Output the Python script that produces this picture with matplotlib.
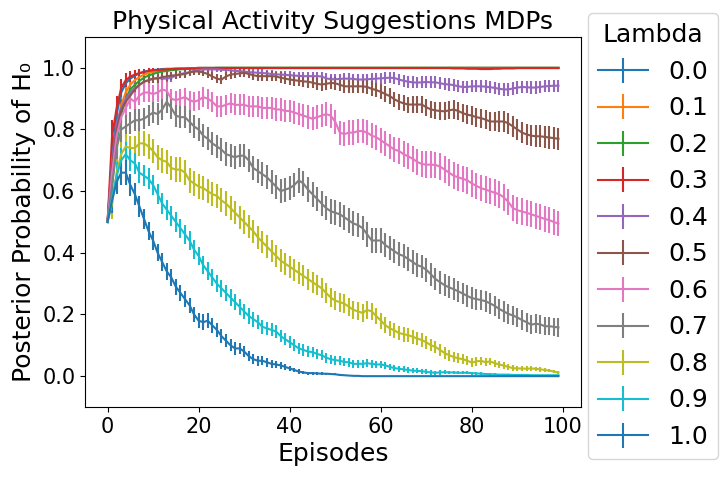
import matplotlib
matplotlib.use("Agg")
import matplotlib.pyplot as plt

episodes = list(range(100))
lambdas = ["0.0", "0.1", "0.2", "0.3", "0.4", "0.5", "0.6", "0.7", "0.8", "0.9", "1.0"]

# mean posterior probability per episode, one list per lambda
lam_00 = [
    0.50, 0.72, 0.85, 0.92, 0.95, 0.965, 0.975, 0.982, 0.988, 0.990,
    0.993, 0.994, 0.996, 0.997, 0.997, 0.998, 0.998, 0.998, 0.999, 0.999,
    1.0, 1.0, 1.0, 1.0, 1.0, 1.0, 1.0, 1.0, 1.0, 1.0,
    1.0, 1.0, 1.0, 1.0, 1.0, 1.0, 1.0, 1.0, 1.0, 1.0,
    1.0, 1.0, 1.0, 1.0, 1.0, 1.0, 1.0, 1.0, 1.0, 1.0,
    1.0, 1.0, 1.0, 1.0, 1.0, 1.0, 1.0, 1.0, 1.0, 1.0,
    1.0, 1.0, 1.0, 1.0, 1.0, 1.0, 1.0, 1.0, 1.0, 1.0,
    1.0, 1.0, 1.0, 1.0, 1.0, 1.0, 1.0, 1.0, 1.0, 1.0,
    1.0, 1.0, 1.0, 1.0, 1.0, 1.0, 1.0, 1.0, 1.0, 1.0,
    1.0, 1.0, 1.0, 1.0, 1.0, 1.0, 1.0, 1.0, 1.0, 1.0,
]
lam_01 = [
    0.50, 0.65, 0.80, 0.88, 0.92, 0.945, 0.960, 0.970, 0.978, 0.983,
    0.987, 0.990, 0.993, 0.995, 0.996, 0.997, 0.998, 0.998, 0.999, 0.999,
    1.0, 1.0, 1.0, 1.0, 1.0, 1.0, 1.0, 1.0, 1.0, 1.0,
    1.0, 1.0, 1.0, 1.0, 1.0, 1.0, 1.0, 1.0, 1.0, 1.0,
    1.0, 1.0, 1.0, 1.0, 1.0, 1.0, 1.0, 1.0, 1.0, 1.0,
    1.0, 1.0, 1.0, 1.0, 1.0, 1.0, 1.0, 1.0, 1.0, 1.0,
    1.0, 1.0, 1.0, 1.0, 1.0, 1.0, 1.0, 1.0, 1.0, 1.0,
    1.0, 1.0, 1.0, 1.0, 1.0, 1.0, 1.0, 1.0, 1.0, 1.0,
    1.0, 1.0, 1.0, 1.0, 1.0, 1.0, 1.0, 1.0, 1.0, 1.0,
    1.0, 1.0, 1.0, 1.0, 1.0, 1.0, 1.0, 1.0, 1.0, 1.0,
]
lam_02 = [
    0.50, 0.62, 0.76, 0.85, 0.90, 0.93, 0.945, 0.958, 0.968, 0.975,
    0.980, 0.985, 0.988, 0.990, 0.992, 0.994, 0.995, 0.996, 0.997, 0.998,
    0.998, 0.999, 0.999, 0.999, 1.0, 1.0, 1.0, 1.0, 1.0, 1.0,
    1.0, 1.0, 1.0, 1.0, 1.0, 1.0, 1.0, 1.0, 1.0, 1.0,
    1.0, 1.0, 1.0, 1.0, 1.0, 1.0, 1.0, 1.0, 1.0, 1.0,
    1.0, 1.0, 1.0, 1.0, 1.0, 1.0, 1.0, 1.0, 1.0, 1.0,
    1.0, 1.0, 1.0, 1.0, 1.0, 1.0, 1.0, 1.0, 1.0, 1.0,
    1.0, 1.0, 1.0, 1.0, 1.0, 1.0, 1.0, 1.0, 1.0, 1.0,
    1.0, 1.0, 1.0, 1.0, 1.0, 1.0, 1.0, 1.0, 1.0, 1.0,
    1.0, 1.0, 1.0, 1.0, 1.0, 1.0, 1.0, 1.0, 1.0, 1.0,
]
lam_03 = [
    0.50, 0.78, 0.87, 0.935, 0.96, 0.972, 0.978, 0.983, 0.986, 0.990,
    0.992, 0.993, 0.994, 0.995, 0.996, 0.996, 0.997, 0.997, 0.998, 0.998,
    0.998, 0.998, 0.998, 0.998, 0.999, 0.999, 0.999, 0.999, 0.999, 0.999,
    0.999, 0.999, 0.999, 0.999, 0.999, 0.999, 0.999, 0.999, 0.999, 0.999,
    0.999, 0.999, 0.999, 0.999, 0.999, 0.999, 0.999, 0.999, 0.999, 0.999,
    0.999, 0.999, 0.999, 0.999, 0.999, 0.999, 0.999, 0.999, 0.999, 0.999,
    0.999, 0.999, 0.999, 0.999, 0.999, 0.999, 0.999, 0.999, 0.999, 0.999,
    0.999, 0.999, 0.999, 0.999, 0.999, 0.999, 0.998, 0.998, 0.998, 0.997,
    0.997, 0.997, 0.996, 0.996, 0.996, 0.997, 0.997, 0.998, 0.998, 0.998,
    0.999, 0.999, 0.999, 0.999, 0.999, 0.999, 0.999, 0.999, 0.999, 0.999,
]
lam_04 = [
    0.50, 0.70, 0.82, 0.87, 0.90, 0.92, 0.935, 0.945, 0.955, 0.960,
    0.965, 0.968, 0.965, 0.965, 0.968, 0.975, 0.980, 0.983, 0.986, 0.990,
    0.993, 0.995, 0.995, 0.995, 0.995, 0.994, 0.993, 0.992, 0.990, 0.989,
    0.988, 0.986, 0.985, 0.984, 0.983, 0.982, 0.980, 0.979, 0.978, 0.977,
    0.976, 0.975, 0.974, 0.973, 0.973, 0.973, 0.973, 0.972, 0.966, 0.963,
    0.963, 0.964, 0.965, 0.965, 0.964, 0.962, 0.962, 0.963, 0.964, 0.965,
    0.966, 0.967, 0.968, 0.967, 0.962, 0.958, 0.955, 0.953, 0.952, 0.953,
    0.954, 0.953, 0.953, 0.950, 0.947, 0.946, 0.944, 0.940, 0.938, 0.938,
    0.940, 0.940, 0.940, 0.939, 0.937, 0.935, 0.932, 0.930, 0.930, 0.933,
    0.936, 0.938, 0.937, 0.936, 0.936, 0.938, 0.940, 0.941, 0.942, 0.942,
]
lam_05 = [
    0.50, 0.68, 0.80, 0.86, 0.89, 0.91, 0.93, 0.945, 0.955, 0.960,
    0.965, 0.965, 0.970, 0.972, 0.975, 0.976, 0.978, 0.980, 0.985, 0.988,
    0.988, 0.985, 0.980, 0.972, 0.965, 0.962, 0.972, 0.978, 0.980, 0.982,
    0.984, 0.980, 0.976, 0.973, 0.973, 0.973, 0.973, 0.972, 0.968, 0.965,
    0.962, 0.960, 0.958, 0.956, 0.955, 0.952, 0.948, 0.946, 0.948, 0.951,
    0.950, 0.945, 0.940, 0.940, 0.940, 0.940, 0.940, 0.938, 0.932, 0.928,
    0.922, 0.915, 0.908, 0.898, 0.890, 0.885, 0.881, 0.881, 0.881, 0.881,
    0.872, 0.865, 0.862, 0.860, 0.859, 0.862, 0.865, 0.860, 0.853, 0.848,
    0.845, 0.840, 0.837, 0.832, 0.826, 0.826, 0.826, 0.826, 0.820, 0.810,
    0.800, 0.790, 0.784, 0.780, 0.778, 0.778, 0.776, 0.774, 0.772, 0.770,
]
lam_06 = [
    0.50, 0.66, 0.78, 0.84, 0.87, 0.90, 0.89, 0.91, 0.92, 0.92,
    0.915, 0.92, 0.93, 0.925, 0.90, 0.895, 0.90, 0.905, 0.895, 0.89,
    0.895, 0.905, 0.90, 0.89, 0.875, 0.875, 0.88, 0.885, 0.88, 0.88,
    0.88, 0.875, 0.875, 0.875, 0.87, 0.87, 0.87, 0.865, 0.865, 0.86,
    0.86, 0.855, 0.85, 0.845, 0.84, 0.835, 0.84, 0.845, 0.85, 0.845,
    0.825, 0.79, 0.785, 0.79, 0.79, 0.795, 0.795, 0.79, 0.78, 0.775,
    0.765, 0.755, 0.745, 0.735, 0.73, 0.72, 0.713, 0.705, 0.695, 0.688,
    0.686, 0.686, 0.685, 0.68, 0.67, 0.66, 0.65, 0.645, 0.64, 0.635,
    0.625, 0.617, 0.61, 0.605, 0.60, 0.595, 0.59, 0.58, 0.565, 0.545,
    0.538, 0.534, 0.53, 0.525, 0.52, 0.515, 0.51, 0.506, 0.50, 0.495,
]
lam_07 = [
    0.50, 0.62, 0.74, 0.80, 0.81, 0.82, 0.83, 0.83, 0.835, 0.845,
    0.855, 0.85, 0.865, 0.89, 0.87, 0.845, 0.84, 0.84, 0.825, 0.81,
    0.80, 0.78, 0.77, 0.755, 0.745, 0.735, 0.72, 0.715, 0.71, 0.715,
    0.715, 0.70, 0.675, 0.665, 0.655, 0.645, 0.63, 0.615, 0.60, 0.605,
    0.61, 0.62, 0.635, 0.625, 0.605, 0.59, 0.575, 0.56, 0.545, 0.535,
    0.53, 0.525, 0.515, 0.505, 0.495, 0.49, 0.48, 0.46, 0.44, 0.44,
    0.44, 0.425, 0.415, 0.405, 0.395, 0.39, 0.38, 0.37, 0.36, 0.355,
    0.345, 0.33, 0.315, 0.305, 0.295, 0.288, 0.282, 0.275, 0.268, 0.26,
    0.253, 0.25, 0.247, 0.243, 0.236, 0.228, 0.218, 0.21, 0.202, 0.197,
    0.19, 0.182, 0.175, 0.167, 0.17, 0.168, 0.162, 0.162, 0.16, 0.158,
]
lam_08 = [
    0.50, 0.56, 0.66, 0.72, 0.745, 0.74, 0.74, 0.755, 0.755, 0.745,
    0.73, 0.71, 0.70, 0.695, 0.675, 0.67, 0.67, 0.66, 0.635, 0.625,
    0.615, 0.61, 0.60, 0.59, 0.585, 0.57, 0.56, 0.545, 0.53, 0.515,
    0.50, 0.485, 0.47, 0.45, 0.435, 0.42, 0.405, 0.39, 0.375, 0.365,
    0.355, 0.345, 0.335, 0.325, 0.315, 0.305, 0.295, 0.285, 0.27, 0.255,
    0.245, 0.24, 0.235, 0.225, 0.215, 0.21, 0.205, 0.215, 0.21, 0.195,
    0.18, 0.165, 0.155, 0.148, 0.14, 0.136, 0.133, 0.128, 0.122, 0.117,
    0.11, 0.10, 0.095, 0.085, 0.075, 0.068, 0.062, 0.058, 0.055, 0.05,
    0.044, 0.048, 0.05, 0.045, 0.048, 0.042, 0.038, 0.034, 0.03, 0.026,
    0.025, 0.025, 0.024, 0.025, 0.024, 0.022, 0.02, 0.018, 0.015, 0.012,
]
lam_09 = [
    0.50, 0.58, 0.65, 0.70, 0.72, 0.70, 0.69, 0.66, 0.65, 0.64,
    0.62, 0.59, 0.56, 0.54, 0.52, 0.50, 0.48, 0.46, 0.44, 0.41,
    0.39, 0.36, 0.34, 0.32, 0.30, 0.285, 0.27, 0.255, 0.24, 0.225,
    0.21, 0.195, 0.185, 0.175, 0.16, 0.155, 0.15, 0.145, 0.13, 0.12,
    0.11, 0.10, 0.09, 0.085, 0.08, 0.078, 0.072, 0.068, 0.06, 0.055,
    0.052, 0.05, 0.046, 0.045, 0.04, 0.04, 0.04, 0.042, 0.04, 0.038,
    0.038, 0.035, 0.03, 0.026, 0.024, 0.022, 0.02, 0.018, 0.017, 0.016,
    0.014, 0.012, 0.011, 0.012, 0.013, 0.012, 0.012, 0.011, 0.011, 0.011,
    0.010, 0.009, 0.008, 0.007, 0.006, 0.006, 0.005, 0.005, 0.005, 0.004,
    0.004, 0.004, 0.004, 0.003, 0.003, 0.003, 0.003, 0.003, 0.003, 0.003,
]
lam_10 = [
    0.50, 0.57, 0.63, 0.66, 0.66, 0.62, 0.59, 0.55, 0.51, 0.47,
    0.44, 0.40, 0.37, 0.34, 0.32, 0.29, 0.27, 0.25, 0.23, 0.20,
    0.18, 0.175, 0.18, 0.165, 0.15, 0.13, 0.115, 0.10, 0.09, 0.09,
    0.08, 0.065, 0.055, 0.05, 0.05, 0.045, 0.04, 0.038, 0.035, 0.03,
    0.025, 0.02, 0.015, 0.012, 0.01, 0.01, 0.009, 0.008, 0.008, 0.007,
    0.006, 0.004, 0.003, 0.002, 0.001, 0.001, 0.0, 0.0, 0.0, 0.0,
    0.0, 0.0, 0.0, 0.0, 0.0, 0.0, 0.0, 0.0, 0.0, 0.0,
    0.0, 0.0, 0.0, 0.0, 0.0, 0.0, 0.0, 0.0, 0.0, 0.0,
    0.0, 0.0, 0.0, 0.0, 0.0, 0.0, 0.0, 0.0, 0.0, 0.0,
    0.0, 0.0, 0.0, 0.0, 0.0, 0.0, 0.0, 0.0, 0.0, 0.0,
]

# error bar half-lengths, same layout
err_00 = [
    0.0, 0.04, 0.03, 0.02, 0.015, 0.012, 0.010, 0.008, 0.006, 0.005,
    0.004, 0.003, 0.003, 0.002, 0.002, 0.002, 0.001, 0.001, 0.001, 0.001,
] + [0.0] * 80
err_01 = [
    0.0, 0.045, 0.035, 0.03, 0.02, 0.015, 0.012, 0.010, 0.008, 0.006,
    0.005, 0.004, 0.003, 0.003, 0.002, 0.002, 0.002, 0.001, 0.001, 0.001,
] + [0.0] * 80
err_02 = [
    0.0, 0.045, 0.035, 0.03, 0.02, 0.015, 0.012, 0.010, 0.008, 0.007,
    0.006, 0.005, 0.004, 0.004, 0.003, 0.003, 0.002, 0.002, 0.002, 0.002,
    0.001, 0.001, 0.001, 0.001, 0.0, 0.0, 0.0, 0.0, 0.0, 0.0,
] + [0.0] * 70
err_03 = [
    0.0, 0.05, 0.04, 0.03, 0.022, 0.018, 0.015, 0.012, 0.010, 0.008,
    0.007, 0.006, 0.005, 0.005, 0.004, 0.004, 0.003, 0.003, 0.003, 0.003,
] + [0.002] * 80
err_04 = [
    0.0, 0.05, 0.04, 0.03, 0.025, 0.02, 0.018, 0.016, 0.015, 0.015,
    0.014, 0.014, 0.014, 0.013, 0.013, 0.012, 0.011, 0.010, 0.010, 0.009,
    0.008, 0.008, 0.008, 0.008, 0.009, 0.009, 0.010, 0.010, 0.011, 0.011,
    0.012, 0.012, 0.012, 0.012, 0.012, 0.012, 0.012, 0.012, 0.012, 0.012,
    0.013, 0.013, 0.014, 0.014, 0.014, 0.015, 0.015, 0.015, 0.016, 0.016,
    0.016, 0.016, 0.017, 0.017, 0.017, 0.017, 0.017, 0.018, 0.018, 0.018,
    0.018, 0.018, 0.018, 0.019, 0.019, 0.019, 0.019, 0.019, 0.019, 0.019,
    0.019, 0.019, 0.020, 0.020, 0.020, 0.020, 0.020, 0.020, 0.020, 0.020,
    0.020, 0.020, 0.020, 0.020, 0.020, 0.020, 0.020, 0.020, 0.020, 0.020,
    0.020, 0.020, 0.020, 0.020, 0.020, 0.020, 0.020, 0.020, 0.020, 0.020,
]
err_05 = [
    0.0, 0.05, 0.04, 0.035, 0.03, 0.025, 0.022, 0.02, 0.018, 0.016,
    0.015, 0.015, 0.014, 0.014, 0.013, 0.013, 0.012, 0.012, 0.011, 0.011,
    0.011, 0.012, 0.012, 0.013, 0.014, 0.014, 0.013, 0.013, 0.013, 0.013,
    0.014, 0.014, 0.015, 0.015, 0.015, 0.016, 0.016, 0.016, 0.017, 0.017,
    0.018, 0.018, 0.018, 0.019, 0.019, 0.019, 0.020, 0.020, 0.020, 0.020,
    0.021, 0.021, 0.022, 0.022, 0.022, 0.023, 0.023, 0.023, 0.024, 0.024,
    0.024, 0.025, 0.025, 0.025, 0.026, 0.026, 0.026, 0.027, 0.027, 0.027,
    0.028, 0.028, 0.028, 0.029, 0.029, 0.029, 0.030, 0.030, 0.030, 0.030,
    0.031, 0.031, 0.031, 0.032, 0.032, 0.032, 0.033, 0.033, 0.033, 0.033,
    0.034, 0.034, 0.034, 0.035, 0.035, 0.035, 0.035, 0.036, 0.036, 0.036,
]
err_06 = [
    0.0, 0.05, 0.045, 0.04, 0.035, 0.032, 0.03, 0.03, 0.03, 0.03,
    0.03, 0.03, 0.03, 0.03, 0.03, 0.03, 0.03, 0.031, 0.031, 0.031,
    0.031, 0.032, 0.032, 0.032, 0.033, 0.033, 0.033, 0.033, 0.034, 0.034,
    0.034, 0.034, 0.035, 0.035, 0.035, 0.035, 0.036, 0.036, 0.036, 0.036,
    0.037, 0.037, 0.037, 0.037, 0.038, 0.038, 0.038, 0.038, 0.039, 0.039,
    0.039, 0.039, 0.04, 0.04, 0.04, 0.04, 0.04, 0.041, 0.041, 0.041,
    0.041, 0.041, 0.042, 0.042, 0.042, 0.042, 0.042, 0.042, 0.042, 0.043,
    0.043, 0.043, 0.043, 0.043, 0.043, 0.043, 0.043, 0.043, 0.043, 0.043,
    0.043, 0.043, 0.043, 0.043, 0.043, 0.043, 0.043, 0.043, 0.043, 0.043,
    0.043, 0.043, 0.042, 0.042, 0.042, 0.042, 0.042, 0.042, 0.042, 0.042,
]
err_07 = [
    0.0, 0.06, 0.05, 0.04, 0.038, 0.036, 0.035, 0.035, 0.035, 0.035,
    0.035, 0.035, 0.035, 0.036, 0.036, 0.036, 0.036, 0.036, 0.037, 0.037,
    0.037, 0.037, 0.037, 0.037, 0.038, 0.038, 0.038, 0.038, 0.038, 0.038,
    0.038, 0.038, 0.039, 0.039, 0.039, 0.039, 0.039, 0.039, 0.039, 0.039,
    0.040, 0.040, 0.040, 0.040, 0.040, 0.040, 0.040, 0.040, 0.040, 0.040,
    0.040, 0.040, 0.040, 0.040, 0.040, 0.040, 0.040, 0.040, 0.039, 0.039,
    0.039, 0.039, 0.039, 0.039, 0.039, 0.038, 0.038, 0.038, 0.038, 0.038,
    0.038, 0.037, 0.037, 0.037, 0.036, 0.036, 0.036, 0.035, 0.035, 0.035,
    0.035, 0.034, 0.034, 0.034, 0.033, 0.033, 0.033, 0.033, 0.032, 0.032,
    0.032, 0.032, 0.031, 0.031, 0.031, 0.031, 0.030, 0.030, 0.030, 0.030,
]
err_08 = [
    0.0, 0.05, 0.045, 0.04, 0.04, 0.04, 0.04, 0.04, 0.04, 0.04,
    0.04, 0.04, 0.04, 0.04, 0.04, 0.04, 0.04, 0.04, 0.04, 0.04,
    0.04, 0.039, 0.039, 0.039, 0.039, 0.039, 0.039, 0.038, 0.038, 0.038,
    0.038, 0.038, 0.037, 0.037, 0.037, 0.037, 0.036, 0.036, 0.036, 0.036,
    0.035, 0.035, 0.035, 0.034, 0.034, 0.034, 0.033, 0.033, 0.032, 0.032,
    0.031, 0.031, 0.030, 0.030, 0.029, 0.029, 0.028, 0.028, 0.027, 0.027,
    0.026, 0.026, 0.025, 0.025, 0.024, 0.024, 0.023, 0.023, 0.022, 0.022,
    0.021, 0.020, 0.020, 0.019, 0.018, 0.018, 0.017, 0.016, 0.016, 0.015,
    0.014, 0.014, 0.013, 0.013, 0.012, 0.012, 0.011, 0.011, 0.010, 0.010,
    0.009, 0.009, 0.008, 0.008, 0.007, 0.007, 0.006, 0.006, 0.005, 0.005,
]
err_09 = [
    0.0, 0.05, 0.045, 0.04, 0.038, 0.036, 0.035, 0.035, 0.034, 0.034,
    0.033, 0.033, 0.033, 0.032, 0.032, 0.032, 0.031, 0.031, 0.031, 0.030,
    0.030, 0.030, 0.029, 0.029, 0.028, 0.028, 0.027, 0.027, 0.026, 0.026,
    0.025, 0.025, 0.024, 0.023, 0.023, 0.022, 0.021, 0.021, 0.020, 0.020,
    0.019, 0.019, 0.018, 0.018, 0.017, 0.017, 0.016, 0.016, 0.016, 0.015,
    0.015, 0.015, 0.014, 0.014, 0.014, 0.013, 0.013, 0.013, 0.012, 0.012,
    0.012, 0.011, 0.011, 0.010, 0.010, 0.010, 0.009, 0.009, 0.008, 0.008,
    0.008, 0.007, 0.007, 0.007, 0.006, 0.006, 0.006, 0.005, 0.005, 0.005,
    0.005, 0.004, 0.004, 0.004, 0.004, 0.003, 0.003, 0.003, 0.003, 0.003,
    0.003, 0.002, 0.002, 0.002, 0.002, 0.002, 0.002, 0.002, 0.002, 0.002,
]
err_10 = [
    0.0, 0.04, 0.04, 0.04, 0.04, 0.035, 0.035, 0.033, 0.032, 0.03,
    0.03, 0.028, 0.028, 0.027, 0.027, 0.026, 0.026, 0.025, 0.025, 0.025,
    0.025, 0.025, 0.024, 0.024, 0.023, 0.022, 0.021, 0.02, 0.02, 0.019,
    0.018, 0.017, 0.016, 0.016, 0.015, 0.014, 0.013, 0.012, 0.011, 0.01,
    0.009, 0.008, 0.007, 0.006, 0.005, 0.005, 0.004, 0.004, 0.003, 0.003,
    0.003, 0.002, 0.002, 0.001, 0.001, 0.0, 0.0, 0.0, 0.0, 0.0,
] + [0.0] * 40

means = [lam_00, lam_01, lam_02, lam_03, lam_04, lam_05,
         lam_06, lam_07, lam_08, lam_09, lam_10]
errors = [err_00, err_01, err_02, err_03, err_04, err_05,
          err_06, err_07, err_08, err_09, err_10]

fig = plt.figure(figsize=(7.26, 4.79), dpi=100)
ax = fig.add_axes([85 / 726, 1 - 407 / 479, 496 / 726, 370 / 479])

for lam, m, e in zip(lambdas, means, errors):
    ax.errorbar(episodes, m, yerr=e, label=lam)

ax.set_ylim(-0.1, 1.1)
ax.set_title("Physical Activity Suggestions MDPs", fontsize=18)
ax.set_xlabel("Episodes", fontsize=18)
ax.set_ylabel("Posterior Probability of H\u2080", fontsize=18)
ax.tick_params(labelsize=15)
ax.legend(title="Lambda", fontsize=18, title_fontsize=18,
          loc="center left", bbox_to_anchor=(1.014, 0.462), borderaxespad=0)

fig.savefig("out.png", dpi=100)
